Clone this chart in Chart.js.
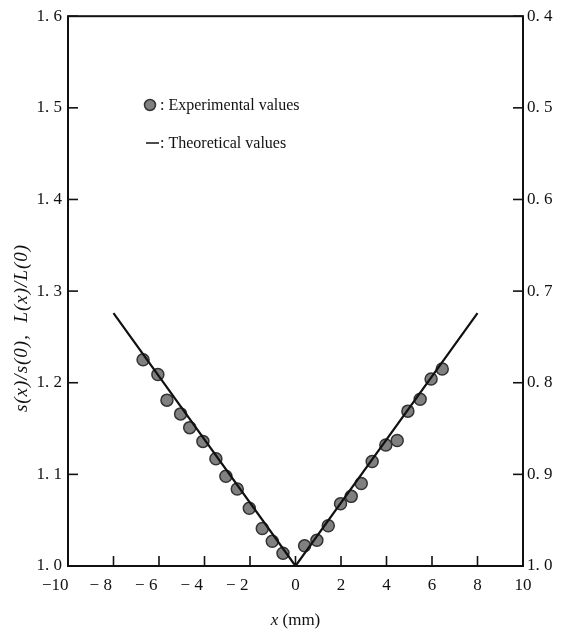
<!DOCTYPE html>
<html>
<head>
<meta charset="utf-8">
<script src="https://cdn.jsdelivr.net/npm/chart.js@4"></script>
<style>
  body { margin: 0; background: #fff; }
  canvas { display: block; }
</style>
</head>
<body>
<canvas id="chart" width="564" height="637"></canvas>
<script>
// experimental points (x in mm, ratio)
const expX = [-6.7, -6.05, -5.65, -5.05, -4.65, -4.07, -3.5, -3.06, -2.56, -2.03, -1.46, -1.02, -0.55,
              0.4, 0.94, 1.44, 1.98, 2.45, 2.89, 3.37, 3.97, 4.47, 4.94, 5.48, 5.96, 6.45];
const expY = [1.225, 1.209, 1.181, 1.166, 1.151, 1.136, 1.117, 1.098, 1.084, 1.063, 1.041, 1.027, 1.014,
              1.022, 1.028, 1.044, 1.068, 1.076, 1.090, 1.114, 1.132, 1.137, 1.169, 1.182, 1.204, 1.215];
// theoretical curve
const theoX = [-8, 0, 8];
const theoY = [1.276, 1.0, 1.276];
// ticks
const xTicks = [-10, -8, -6, -4, -2, 0, 2, 4, 6, 8, 10];
const yTicks = [1.0, 1.1, 1.2, 1.3, 1.4, 1.5, 1.6];
const y2Ticks = [0.4, 0.5, 0.6, 0.7, 0.8, 0.9, 1.0];

const SERIF = '"Liberation Serif", "DejaVu Serif", serif';
const INK = '#111';

// inward ticks, frame, legend and axis titles
const decor = {
  id: 'decor',
  afterDraw(chart) {
    const { ctx, chartArea: a, scales } = chart;
    ctx.save();
    ctx.strokeStyle = INK;
    ctx.lineWidth = 2;
    ctx.strokeRect(a.left, a.top, a.right - a.left, a.bottom - a.top);

    ctx.lineWidth = 1.6;
    const len = 10;
    xTicks.forEach(v => {
      const px = scales.x.getPixelForValue(v);
      ctx.beginPath(); ctx.moveTo(px, a.bottom); ctx.lineTo(px, a.bottom - len); ctx.stroke();
    });
    yTicks.forEach(v => {
      const py = scales.y.getPixelForValue(v);
      ctx.beginPath(); ctx.moveTo(a.left, py); ctx.lineTo(a.left + len, py); ctx.stroke();
    });
    y2Ticks.forEach(v => {
      const py = scales.y2.getPixelForValue(v);
      ctx.beginPath(); ctx.moveTo(a.right, py); ctx.lineTo(a.right - len, py); ctx.stroke();
    });

    // legend
    ctx.fillStyle = INK;
    ctx.textBaseline = 'middle';
    ctx.font = '16px ' + SERIF;
    const lx = a.left + 82;
    ctx.beginPath();
    ctx.arc(lx, 105, 5.5, 0, Math.PI * 2);
    ctx.fillStyle = '#808080'; ctx.fill();
    ctx.lineWidth = 1.5; ctx.strokeStyle = '#333'; ctx.stroke();
    ctx.fillStyle = INK;
    ctx.fillText(': Experimental values', lx + 10, 106);
    ctx.lineWidth = 1.5; ctx.strokeStyle = INK;
    ctx.beginPath(); ctx.moveTo(lx - 4, 143); ctx.lineTo(lx + 9, 143); ctx.stroke();
    ctx.fillText(': Theoretical values', lx + 10, 144);

    // x title: "x (mm)"
    ctx.textBaseline = 'alphabetic';
    const xc = scales.x.getPixelForValue(0);
    ctx.font = 'italic 17px ' + SERIF;
    const w1 = ctx.measureText('x').width;
    ctx.font = '17px ' + SERIF;
    const w2 = ctx.measureText(' (mm)').width;
    let sx = xc - (w1 + w2) / 2;
    ctx.font = 'italic 17px ' + SERIF;
    ctx.fillText('x', sx, 625);
    ctx.font = '17px ' + SERIF;
    ctx.fillText(' (mm)', sx + w1, 625);

    // y title
    ctx.translate(27, 328);
    ctx.rotate(-Math.PI / 2);
    ctx.textAlign = 'center';
    ctx.font = 'italic 19px ' + SERIF;
    ctx.letterSpacing = '1px';
    ctx.fillText('s(x)/s(0),  L(x)/L(0)', 0, 0);
    ctx.restore();
  }
};

const tickFont = { family: SERIF, size: 17 };

new Chart(document.getElementById('chart'), {
  type: 'scatter',
  data: {
    datasets: [
      {
        label: 'Theoretical values',
        data: theoX.map((x, i) => ({ x, y: theoY[i] })),
        showLine: true,
        borderColor: INK,
        borderWidth: 2.2,
        pointRadius: 0,
        yAxisID: 'y'
      },
      {
        label: 'Experimental values',
        data: expX.map((x, i) => ({ x, y: expY[i] })),
        pointRadius: 6,
        backgroundColor: '#808080',
        borderColor: '#333',
        borderWidth: 1.5,
        yAxisID: 'y'
      }
    ]
  },
  options: {
    responsive: false,
    animation: false,
    layout: { padding: { top: 10, left: 0, right: 0, bottom: 0 } },
    plugins: { legend: { display: false }, tooltip: { enabled: false } },
    scales: {
      x: {
        type: 'linear', min: -10, max: 10,
        afterBuildTicks: s => { s.ticks = xTicks.map(v => ({ value: v })); },
        afterFit: s => { s.height = 71; },
        grid: { display: false, drawTicks: false },
        border: { display: false },
        ticks: {
          color: INK, font: tickFont, padding: 9, maxRotation: 0, autoSkip: false,
          // minus sign hangs to the left of the centred digits
          callback: v => v < 0
            ? (v <= -10 ? '\u2212' : '\u2212 ') + Math.abs(v) + '\u2003\u2002'
            : String(v)
        }
      },
      y: {
        type: 'linear', position: 'left', min: 1.0, max: 1.6,
        afterBuildTicks: s => { s.ticks = yTicks.map(v => ({ value: v })); },
        afterFit: s => { s.width = 68; },
        grid: { display: false, drawTicks: false },
        border: { display: false },
        ticks: { color: INK, font: tickFont, padding: 6, callback: v => v.toFixed(1).replace('.', '. ') }
      },
      y2: {
        type: 'linear', position: 'right', min: 0.4, max: 1.0, reverse: true,
        afterBuildTicks: s => { s.ticks = y2Ticks.map(v => ({ value: v })); },
        afterFit: s => { s.width = 41; },
        grid: { display: false, drawTicks: false },
        border: { display: false },
        ticks: { color: INK, font: tickFont, padding: 4, callback: v => v.toFixed(1).replace('.', '. ') }
      }
    }
  },
  plugins: [decor]
});
</script>
</body>
</html>
